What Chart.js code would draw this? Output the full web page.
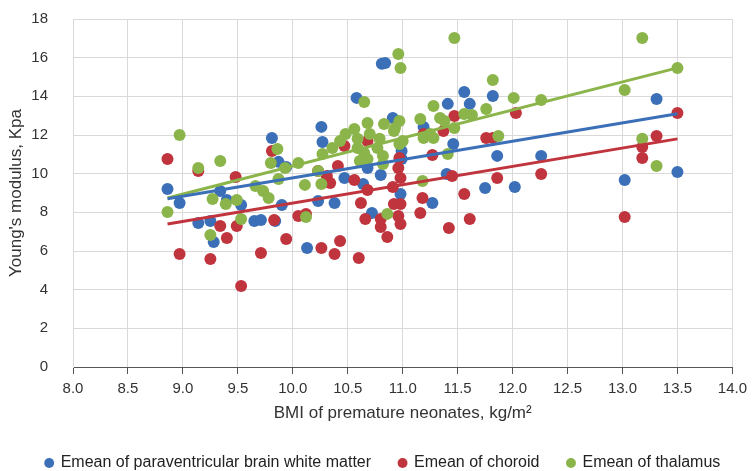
<!DOCTYPE html>
<html>
<head>
<meta charset="utf-8">
<script src="https://cdn.jsdelivr.net/npm/chart.js@4"></script>
<style>
  html, body { margin: 0; padding: 0; background: #fff; }
</style>
</head>
<body>
<canvas id="myChart" width="753" height="471"></canvas>
<script>
// Emean of paraventricular brain white matter (blue)
const pvBmi = [8.86, 8.97, 9.14, 9.25, 9.28, 9.34, 9.40, 9.53, 9.65, 9.71, 9.84, 9.81, 9.87, 9.94,
  10.26, 10.27, 10.58, 10.81, 10.84, 10.47, 10.68, 10.80, 10.38, 10.23, 9.90, 10.72, 10.91, 10.99,
  10.99, 10.13, 10.64, 10.98, 11.27, 11.56, 11.82, 11.41, 11.61, 11.19, 11.46, 11.86, 12.26, 11.75,
  12.02, 11.40, 13.31, 13.02, 13.50];
const pvE = [9.21, 8.48, 7.45, 7.55, 6.47, 9.10, 8.64, 8.38, 7.55, 7.60, 7.55, 11.85, 10.61, 10.35,
  12.42, 11.64, 13.92, 15.68, 15.73, 9.78, 10.29, 9.93, 8.48, 8.59, 8.38, 7.97, 12.88, 11.17,
  10.76, 6.16, 9.47, 8.95, 8.48, 14.23, 14.02, 13.61, 13.61, 12.42, 11.54, 10.92, 10.92, 9.26,
  9.31, 9.98, 13.86, 9.67, 10.09];

// Emean of choroid (red)
const chBmi = [8.86, 8.97, 9.25, 9.53, 9.40, 9.34, 9.49, 9.71, 9.94, 9.81, 9.48, 9.14, 9.83, 10.05,
  10.12, 10.26, 10.38, 10.43, 10.60, 10.41, 10.56, 10.62, 10.68, 10.66, 10.80, 10.80, 10.86, 10.92,
  10.98, 10.96, 10.98, 10.98, 10.97, 11.18, 11.16, 11.27, 10.31, 10.23, 10.34, 11.42, 11.61, 11.45,
  11.56, 11.86, 12.26, 11.47, 11.37, 11.76, 11.82, 12.03, 10.96, 13.50, 13.31, 13.18, 13.18, 13.02,
  10.47, 10.68, 11.19, 10.91];
const chE = [10.76, 5.85, 5.59, 4.19, 6.67, 7.29, 7.29, 5.90, 6.62, 11.17, 9.83, 10.14, 7.60, 7.81,
  7.92, 6.16, 5.85, 6.52, 5.64, 10.40, 9.67, 8.48, 9.16, 7.66, 7.66, 7.24, 6.73, 8.43,
  8.43, 7.81, 7.40, 9.78, 10.81, 8.74, 7.97, 10.97, 9.88, 10.14, 9.52, 7.19, 7.66, 9.88,
  8.95, 9.78, 9.98, 12.98, 12.21, 11.85, 11.85, 13.14, 10.29, 13.14, 11.95, 11.38, 10.81, 7.76,
  11.43, 11.69, 12.05, 9.31];

// Emean of thalamus (green)
const thBmi = [8.97, 9.34, 9.14, 8.86, 9.27, 9.39, 9.49, 9.53, 9.25, 9.80, 9.86, 10.05, 9.93, 9.66,
  9.73, 9.78, 9.87, 10.11, 10.26, 10.23, 10.12, 10.27, 10.36, 10.43, 10.48, 10.56, 10.59, 10.68,
  10.65, 10.70, 10.77, 10.82, 10.83, 10.92, 10.68, 10.61, 10.96, 10.98, 10.79, 10.93, 10.97, 11.16,
  11.28, 11.28, 10.59, 10.65, 10.66, 10.82, 11.34, 11.38, 11.47, 11.56, 11.63, 11.76, 12.01, 11.82,
  11.25, 11.19, 11.00, 10.97, 11.41, 11.87, 11.18, 10.86, 11.47, 12.26, 13.18, 13.50, 13.02, 13.18,
  13.31];
const thE = [12.00, 10.66, 10.29, 8.02, 8.69, 8.43, 8.64, 7.66, 6.83, 10.55, 11.28, 10.55, 10.29, 9.36,
  9.10, 8.74, 9.73, 9.42, 9.47, 10.14, 7.76, 11.02, 11.33, 11.69, 12.05, 12.31, 11.80, 12.62,
  13.71, 12.05, 11.33, 10.92, 12.57, 12.21, 10.76, 10.66, 16.19, 15.47, 11.80, 12.36, 12.73, 12.83,
  13.50, 11.85, 11.33, 11.07, 10.66, 10.50, 12.88, 12.73, 12.36, 13.09, 13.04, 13.35, 13.92, 14.85,
  12.05, 11.85, 11.69, 11.54, 11.02, 11.95, 9.62, 7.92, 17.02, 13.81, 17.02, 15.47, 14.33, 11.80,
  10.40];

// fitted trend lines: value at first and last BMI
const trendBmi = [8.86, 13.5];
const pvTrend = [8.7, 13.1];
const chTrend = [7.4, 11.8];
const thTrend = [8.74, 15.47];

const blue = 'rgb(59, 111, 184)';
const red = 'rgb(192, 52, 62)';
const green = 'rgb(139, 181, 74)';

const toPoints = (xs, ys) => xs.map((x, i) => ({ x: x, y: ys[i] }));

const pointSet = (label, xs, ys, color, order) => ({
  type: 'scatter',
  label: label,
  data: toPoints(xs, ys),
  backgroundColor: color,
  borderColor: color,
  borderWidth: 0,
  pointRadius: 6,
  pointHoverRadius: 6,
  order: order
});

const trendSet = (ys, color) => ({
  type: 'line',
  label: 'trend',
  data: toPoints(trendBmi, ys),
  borderColor: color,
  borderWidth: 3,
  pointRadius: 0,
  fill: false,
  order: 0
});

const data = {
  datasets: [
    pointSet('Emean of paraventricular brain white matter', pvBmi, pvE, blue, 3),
    pointSet('Emean of choroid', chBmi, chE, red, 2),
    pointSet('Emean of thalamus', thBmi, thE, green, 1),
    trendSet(pvTrend, blue),
    trendSet(chTrend, red),
    trendSet(thTrend, green)
  ]
};

// legend rows keep the wide item padding, but drop the extra 10px Chart.js adds below them,
// and the whole row sits a little right of centre like in the original
const legendTight = {
  id: 'legendTight',
  beforeInit(chart) {
    const fit = chart.legend.fit;
    chart.legend.fit = function () {
      fit.bind(chart.legend)();
      this.height -= 10;
    };
  },
  afterLayout(chart) {
    chart.legend.left += 14;
    chart.legend.right += 14;
  }
};

const config = {
  type: 'scatter',
  data,
  options: {
    responsive: false,
    animation: false,
    layout: { padding: { top: 4, right: 15, left: 0, bottom: 0 } },
    scales: {
      x: {
        type: 'linear',
        min: 8,
        max: 14,
        afterFit: (scale) => { scale.height = 60; },
        ticks: {
          stepSize: 0.5,
          callback: (v) => v.toFixed(1),
          font: { family: 'Liberation Sans', size: 15 },
          color: '#333',
          padding: 6
        },
        grid: { color: '#d9d9d9', tickLength: 7, tickColor: '#555' },
        border: { color: '#555' },
        title: {
          display: true,
          text: 'BMI of premature neonates, kg/m\u00b2',
          font: { family: 'Liberation Sans', size: 17 },
          color: '#333',
          padding: { top: 0, bottom: 3 }
        }
      },
      y: {
        min: 0,
        max: 18,
        afterFit: (scale) => { scale.width = 73; },
        ticks: {
          stepSize: 2,
          font: { family: 'Liberation Sans', size: 15 },
          color: '#333',
          padding: 10
        },
        grid: { color: '#d9d9d9', tickLength: 15, tickColor: 'rgba(0,0,0,0)' },
        border: { color: '#d9d9d9' },
        title: {
          display: true,
          text: "Young's modulus, Kpa",
          font: { family: 'Liberation Sans', size: 17 },
          color: '#333',
          padding: { top: 6, bottom: 2 }
        }
      }
    },
    plugins: {
      legend: {
        position: 'bottom',
        labels: {
          filter: (item) => item.text !== 'trend',
          sort: (a, b) => a.datasetIndex - b.datasetIndex,
          usePointStyle: true,
          pointStyle: 'circle',
          boxWidth: 7,
          boxHeight: 7,
          padding: 28,
          font: { family: 'Liberation Sans', size: 16 },
          color: '#222'
        }
      },
      tooltip: { enabled: false }
    }
  },
  plugins: [legendTight]
};

const myChart = new Chart(document.getElementById('myChart'), config);
</script>
</body>
</html>
